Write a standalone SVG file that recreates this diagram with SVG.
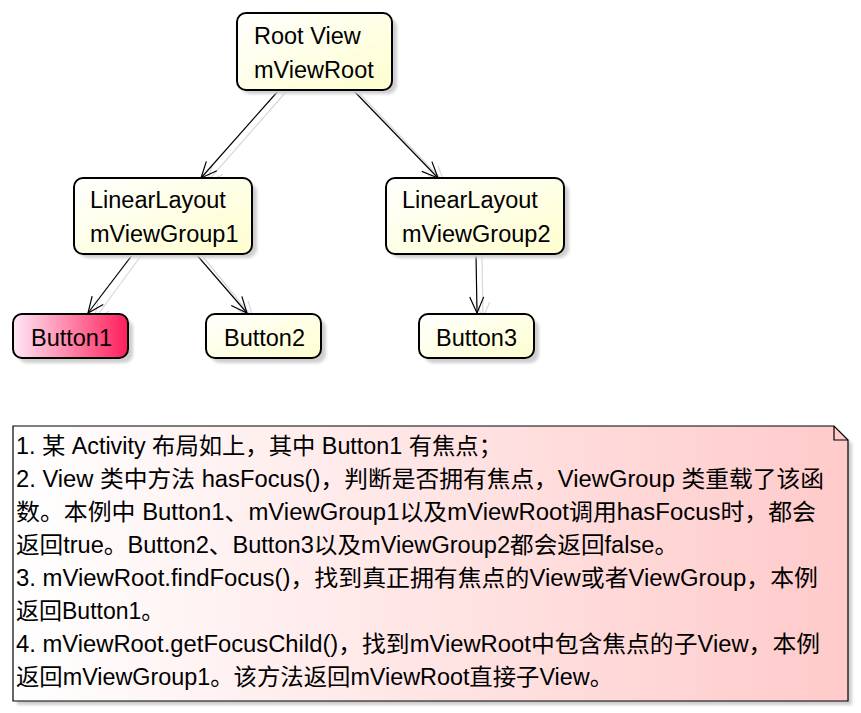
<svg xmlns="http://www.w3.org/2000/svg" width="861" height="713" viewBox="0 0 861 713">
<defs>
<linearGradient id="gY" x1="0" y1="0" x2="1" y2="1">
<stop offset="0" stop-color="#FFFFFF"/>
<stop offset="1" stop-color="#FEFECE"/>
</linearGradient>
<linearGradient id="gR" x1="0" y1="0" x2="1" y2="0">
<stop offset="0" stop-color="#FFE8F6"/>
<stop offset="1" stop-color="#FF1E5A"/>
</linearGradient>
<linearGradient id="gN" x1="0" y1="0" x2="1" y2="0">
<stop offset="0" stop-color="#FFFFFF"/>
<stop offset="1" stop-color="#FFCACA"/>
</linearGradient>
<filter id="sh" x="-10%" y="-10%" width="130%" height="140%">
<feGaussianBlur stdDeviation="1.5"/>
</filter>
<marker id="arr" viewBox="0 0 20 20" refX="18" refY="10" markerWidth="20" markerHeight="20" markerUnits="userSpaceOnUse" orient="auto">
<path d="M2,3 L18,10 L2,17" fill="none" stroke="#000" stroke-width="1.2"/>
</marker>
<marker id="arrS" viewBox="0 0 20 20" refX="18" refY="10" markerWidth="20" markerHeight="20" markerUnits="userSpaceOnUse" orient="auto">
<path d="M2,3 L18,10 L2,17" fill="none" stroke="#D8D8D8" stroke-width="1.2"/>
</marker>
</defs>
<style>
.box{stroke:#000;stroke-width:2}
.shadow{fill:#CFCFCF;filter:url(#sh)}
.t{font-family:"Liberation Sans","Noto Sans CJK SC",sans-serif;font-size:23.5px;fill:#000}
.n{font-family:"Liberation Sans","Noto Sans CJK SC",sans-serif;font-size:23px;fill:#000}
.edge{stroke:#000;stroke-width:1.2;fill:none;marker-end:url(#arr)}
.edgeS{stroke:#D8D8D8;stroke-width:1.2;fill:none;marker-end:url(#arrS)}
</style>
<rect width="861" height="713" fill="#FFFFFF"/>

<g id="connectors">
<line class="edgeS" x1="285" y1="93" x2="207" y2="182"/>
<line class="edgeS" x1="359" y1="93" x2="444" y2="182"/>
<line class="edgeS" x1="140" y1="257" x2="94" y2="320"/>
<line class="edgeS" x1="203" y1="257" x2="253" y2="318"/>
<line class="edgeS" x1="482" y1="257" x2="483" y2="318"/>
<line class="edge" x1="279" y1="90" x2="201" y2="178"/>
<line class="edge" x1="353" y1="90" x2="438" y2="178"/>
<line class="edge" x1="133" y1="254" x2="88" y2="313"/>
<line class="edge" x1="196" y1="254" x2="247" y2="313"/>
<line class="edge" x1="476" y1="254" x2="477" y2="313"/>
</g>

<g id="root">
<rect class="shadow" x="241" y="18" width="156" height="76" rx="9"/>
<rect class="box" x="237" y="13" width="155" height="77" rx="9" fill="url(#gY)"/>
<text class="t" x="254" y="44">Root View</text>
<text class="t" x="254" y="78">mViewRoot</text>
</g>

<g id="mViewGroup1">
<rect class="shadow" x="79" y="183" width="178" height="75" rx="9"/>
<rect class="box" x="74" y="178" width="178" height="76" rx="9" fill="url(#gY)"/>
<text class="t" x="90" y="208">LinearLayout</text>
<text class="t" x="90" y="242">mViewGroup1</text>
</g>

<g id="mViewGroup2">
<rect class="shadow" x="391" y="183" width="178" height="75" rx="9"/>
<rect class="box" x="386" y="178" width="178" height="76" rx="9" fill="url(#gY)"/>
<text class="t" x="402" y="208">LinearLayout</text>
<text class="t" x="402" y="242">mViewGroup2</text>
</g>

<g id="Button1">
<rect class="shadow" x="18" y="319" width="115" height="44" rx="9"/>
<rect class="box" x="13" y="314" width="115" height="44" rx="9" fill="url(#gR)"/>
<text class="t" x="31" y="346">Button1</text>
</g>

<g id="Button2">
<rect class="shadow" x="211" y="319" width="115" height="44" rx="9"/>
<rect class="box" x="206" y="314" width="115" height="44" rx="9" fill="url(#gY)"/>
<text class="t" x="224" y="346">Button2</text>
</g>

<g id="Button3">
<rect class="shadow" x="424" y="319" width="115" height="44" rx="9"/>
<rect class="box" x="419" y="314" width="115" height="44" rx="9" fill="url(#gY)"/>
<text class="t" x="436" y="346">Button3</text>
</g>

<g id="note">
<path class="shadow" d="M17,430 L838,430 L852,444 L852,705 L17,705 Z"/>
<path d="M13,426 L834,426 L848,440 L848,701 L13,701 Z" fill="url(#gN)" stroke="#000" stroke-width="1.2"/>
<path d="M834,426 L834,440 L848,440" fill="none" stroke="#000" stroke-width="1.2"/>
<text class="n" x="16" y="454" textLength="486" lengthAdjust="spacingAndGlyphs">1. 某 Activity 布局如上，其中 Button1 有焦点；</text>
<text class="n" x="16" y="487" textLength="808" lengthAdjust="spacingAndGlyphs">2. View 类中方法 hasFocus()，判断是否拥有焦点，ViewGroup 类重载了该函</text>
<text class="n" x="16" y="520" textLength="800" lengthAdjust="spacingAndGlyphs">数。本例中 Button1、mViewGroup1以及mViewRoot调用hasFocus时，都会</text>
<text class="n" x="16" y="553" textLength="662" lengthAdjust="spacingAndGlyphs">返回true。Button2、Button3以及mViewGroup2都会返回false。</text>
<text class="n" x="16" y="586" textLength="802" lengthAdjust="spacingAndGlyphs">3. mViewRoot.findFocus()，找到真正拥有焦点的View或者ViewGroup，本例</text>
<text class="n" x="16" y="619">返回Button1。</text>
<text class="n" x="16" y="652" textLength="804" lengthAdjust="spacingAndGlyphs">4. mViewRoot.getFocusChild()，找到mViewRoot中包含焦点的子View，本例</text>
<text class="n" x="16" y="685" textLength="597" lengthAdjust="spacingAndGlyphs">返回mViewGroup1。该方法返回mViewRoot直接子View。</text>
</g>
</svg>
